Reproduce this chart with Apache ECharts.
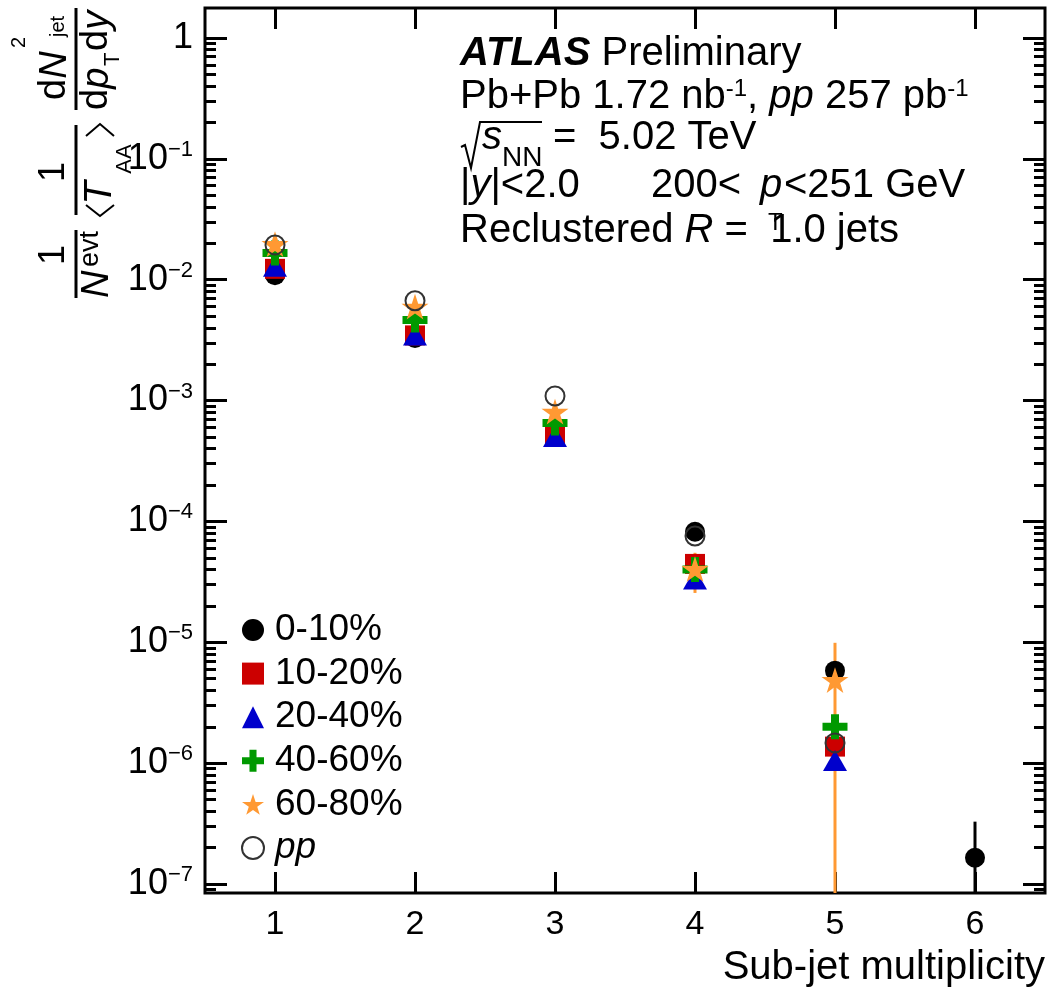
<!DOCTYPE html>
<html><head><meta charset="utf-8">
<script src="https://cdn.jsdelivr.net/npm/echarts@6/dist/echarts.min.js"></script>
<style>html,body{margin:0;padding:0;background:#fff}#c{width:1051px;height:991px}</style>
</head><body><div id="c"></div>
<script>
// ---------------- data ----------------
const multiplicity = [1, 2, 3, 4, 5, 6];
const cent0_10  = [1.09e-2, 3.29e-3, 5.0e-4, 8.22e-5, 5.82e-6, 1.65e-7];
const cent10_20 = [1.23e-2, 3.46e-3, 5.22e-4, 4.45e-5, 1.37e-6];
const cent20_40 = [1.29e-2, 3.49e-3, 5.04e-4, 3.34e-5, 1.05e-6];
const cent40_60 = [1.66e-2, 4.64e-3, 6.52e-4, 4.0e-5, 2.0e-6];
const cent60_80 = [1.97e-2, 5.98e-3, 8.09e-4, 4.04e-5, 4.87e-6];
const ppRef     = [1.94e-2, 6.70e-3, 1.09e-3, 7.58e-5, 1.47e-6];
// error bars: [multiplicity, upper, lower]  (lower 0 = below the plot)
const err0_10  = [[6, 3.28e-7, 0]];
const err60_80 = [[4, 5.5e-5, 2.56e-5], [5, 9.9e-6, 0]];
const errPP    = [[5, 3.88e-6, 5.66e-7]];
const seriesNames = ['0-10%', '10-20%', '20-40%', '40-60%', '60-80%', 'pp'];
const yTickExp = [-7, -6, -5, -4, -3, -2, -1, 0];
const xTicks = [1, 2, 3, 4, 5, 6];

// ---------------- setup ----------------
const FONT = "'Liberation Sans', Arial, Helvetica, sans-serif";
const Y_MIN = -7.0745, Y_MAX = 0.248;
const lg = v => Math.log10(v);
const pts = arr => arr.map((v, i) => [multiplicity[i], lg(v)]);
const errPts = arr => arr.map(e => [e[0], lg(e[1]), e[2] > 0 ? lg(e[2]) : Y_MIN]);
const minorVals = [];
for (let e = -8; e <= 0; e++) for (let k = 2; k <= 9; k++) {
  const t = e + Math.log10(k);
  if (t > Y_MIN && t < Y_MAX) minorVals.push(t);
}
const CROSS = 'path://M8.5,0 H16.5 V8.5 H25 V16.5 H16.5 V25 H8.5 V16.5 H0 V8.5 H8.5 Z';
const STAR = 'path://M50,0 L61.23,34.55 L97.55,34.55 L68.17,55.9 L79.39,90.45 L50,69.1 L20.61,90.45 L31.83,55.9 L2.45,34.55 L38.77,34.55 Z';

const tickStyle = { color: '#000', width: 3 };
function yAx(pos, vals, len, labels) {
  return {
    type: 'value', min: Y_MIN, max: Y_MAX, position: pos,
    axisLine: { show: false, onZero: false }, splitLine: { show: false },
    axisTick: { show: true, inside: true, length: len, customValues: vals, lineStyle: tickStyle },
    axisLabel: labels ? {
      show: true, customValues: yTickExp, margin: 12, color: '#000', fontFamily: FONT, fontSize: 36, lineHeight: 40,
      formatter: v => v === 0 ? '1' : '10{sup|\u2212' + (-v) + '}',
      rich: { sup: { fontSize: 22, fontFamily: FONT, color: '#000', verticalAlign: 'top', lineHeight: 22 } }
    } : { show: false }
  };
}
function xAx(pos, labels) {
  return {
    type: 'value', min: 0.5, max: 6.5, position: pos,
    axisLine: { show: false, onZero: false }, splitLine: { show: false },
    axisTick: { show: true, inside: true, length: 21, customValues: xTicks, lineStyle: tickStyle },
    axisLabel: labels ? { show: true, customValues: xTicks, margin: 15, fontSize: 34, color: '#000', fontFamily: FONT } : { show: false }
  };
}
function scatter(name, arr, symbol, size, color, extra) {
  return Object.assign({
    name, type: 'scatter', data: pts(arr), symbol, symbolSize: size, symbolKeepAspect: true,
    itemStyle: { color, opacity: 1 }, xAxisIndex: 0, yAxisIndex: 0, silent: true
  }, extra || {});
}
function errSeries(arr, color, width) {
  return {
    type: 'custom', data: errPts(arr), xAxisIndex: 0, yAxisIndex: 0, silent: true,
    renderItem: (params, api) => {
      const x = api.value(0);
      const hi = Math.min(api.value(1), Y_MAX), lo = Math.max(api.value(2), Y_MIN);
      const p1 = api.coord([x, hi]), p2 = api.coord([x, lo]);
      return { type: 'line', shape: { x1: p1[0], y1: p1[1], x2: p2[0], y2: p2[1] }, style: { stroke: color, lineWidth: width } };
    }
  };
}

// rotated y-axis title pieces
const R = Math.PI / 2;
function rt(text, x, y, size, align, extra) {
  return { type: 'text', x, y, rotation: R, silent: true,
    style: Object.assign({ text, fontSize: size, fontFamily: FONT, fill: '#000', align: align || 'left', verticalAlign: 'middle',
      textAlign: align || 'left', textVerticalAlign: 'middle',
      rich: { i: { fontStyle: 'italic', fontSize: size, fontFamily: FONT } } }, extra || {}) };
}
function ln(x1, y1, x2, y2, w) {
  return { type: 'line', silent: true, shape: { x1, y1, x2, y2 }, style: { stroke: '#000', lineWidth: w || 3 } };
}
function pl(points, w) {
  return { type: 'polyline', silent: true, shape: { points }, style: { stroke: '#000', lineWidth: w || 2, fill: null } };
}
function tx(text, x, y, size, extra) {
  return { type: 'text', x, y, silent: true,
    style: Object.assign({ text, fontSize: size, fontFamily: FONT, fill: '#000', align: 'left', verticalAlign: 'middle',
      textAlign: 'left', textVerticalAlign: 'middle',
      rich: {
        i: { fontStyle: 'italic', fontSize: size, fontFamily: FONT },
        bi: { fontStyle: 'italic', fontWeight: 'bold', fontSize: size, fontFamily: FONT },
        sup: { fontSize: 24, fontFamily: FONT, verticalAlign: 'top', lineHeight: 24 }
      } }, extra || {}) };
}

const graphics = [
  // y title, fraction A
  rt('d{i|N}', 55, 100, 38), rt('2', 19, 48, 20), rt('jet', 58, 37, 20),
  ln(76, 8, 76, 110),
  rt('d{i|p}', 97, 110, 38), rt('T', 113, 66, 22), rt('d{i|y}', 97, 51, 38),
  // fraction B
  rt('1', 54, 172, 36, 'center'),
  ln(76, 125, 76, 215),
  pl([[86, 205], [100, 216], [114, 205]]),
  rt('{i|T}', 100, 193, 38, 'center'), rt('AA', 125, 159, 22, 'center'),
  pl([[86, 136], [100, 124], [114, 136]]),
  // fraction C
  rt('1', 54, 255, 36, 'center'),
  ln(76, 230, 76, 298),
  rt('{i|N}', 97, 298, 38), rt('evt', 91, 267, 27),
  // annotation
  tx('{bi|ATLAS} Preliminary', 460, 54, 40),
  tx('Pb+Pb 1.72 nb{sup|-1}, {i|pp} 257 pb{sup|-1}', 460, 97, 40),
  pl([[461, 147], [465, 145], [471, 168], [480, 122], [542, 122]], 2),
  tx('{i|s}', 482, 138, 40), tx('NN', 502, 158, 28),
  tx('=  5.02 TeV', 553, 138, 40),
  tx('|{i|y}|<2.0', 460, 186, 40),
  tx('200<', 651, 186, 40), tx('{i|p}', 760, 186, 40), tx('T', 768, 223, 24),
  tx('<251 GeV', 784, 186, 40),
  tx('Reclustered {i|R} =  1.0 jets', 460, 231, 40),
  // x-axis title
  tx('Sub-jet multiplicity', 1045, 968, 40, { align: 'right', textAlign: 'right' })
];

const option = {
  animation: false,
  grid: { left: 205, right: 6, top: 8, bottom: 98, show: true, borderColor: '#000', borderWidth: 3, containLabel: false, outerBoundsMode: 'none' },
  xAxis: [xAx('bottom', true), xAx('top', false)],
  yAxis: [yAx('left', yTickExp, 22, true), yAx('left', minorVals, 11, false), yAx('right', yTickExp, 22, false), yAx('right', minorVals, 11, false)],
  legend: {
    orient: 'vertical', left: 236, top: 605, itemWidth: 22, itemHeight: 22, itemGap: 3.6,
    data: seriesNames, selectedMode: false,
    formatter: n => n === 'pp' ? '{i|pp}' : n,
    textStyle: { fontSize: 37, lineHeight: 40, color: '#000', fontFamily: FONT, padding: [0, 0, 0, 6],
      rich: { i: { fontStyle: 'italic', fontSize: 37, fontFamily: FONT, color: '#000' } } }
  },
  graphic: { elements: graphics },
  series: [
    scatter('0-10%', cent0_10, 'circle', 20, '#000000'),
    scatter('10-20%', cent10_20, 'rect', 20, '#cc0000'),
    scatter('20-40%', cent20_40, 'triangle', [24, 21], '#0000cc'),
    scatter('40-60%', cent40_60, CROSS, 25, '#009900'),
    errSeries(errPP, '#555555', 2),
    errSeries(err60_80, '#ff9933', 3),
    errSeries(err0_10, '#000000', 3),
    scatter('60-80%', cent60_80, STAR, 27, '#ff9933'),
    scatter('pp', ppRef, 'circle', 19, 'rgba(255,255,255,0)', { itemStyle: { color: 'rgba(255,255,255,0)', borderColor: '#333333', borderWidth: 2, opacity: 1 } })
  ]
};
echarts.init(document.getElementById('c'), null, { renderer: 'canvas' }).setOption(option);
</script>
</body></html>
